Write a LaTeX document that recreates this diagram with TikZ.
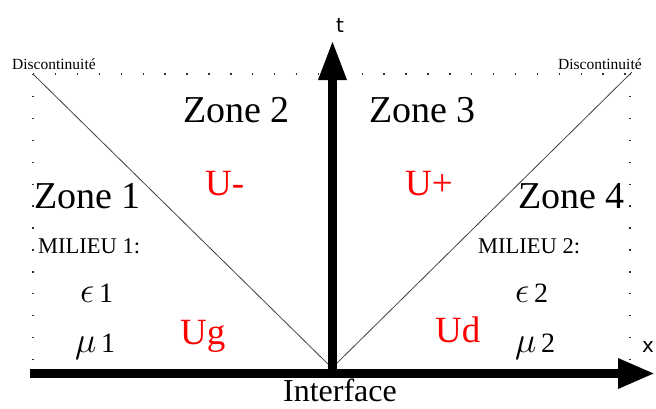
\documentclass[tikz,border=0pt]{standalone}
\usepackage{fontspec}
\setmainfont{Liberation Serif}
\newfontfamily\axfont{DejaVu Sans}
\usetikzlibrary{arrows.meta}
\newcommand{\bigsym}[1]{\scalebox{1.45}{$#1$}}
\begin{document}
\begin{tikzpicture}[x=1pt,y=-1pt,
  lbl/.style={inner sep=0pt,anchor=base west},
  zonetxt/.style={lbl,font=\fontsize{38}{40}\selectfont},
  redtxt/.style={lbl,text=red,font=\fontsize{37}{40}\selectfont},
  milieutxt/.style={lbl,font=\fontsize{22.5}{24}\selectfont},
  paramtxt/.style={lbl,font=\fontsize{28}{30}\selectfont},
  disctxt/.style={lbl,font=\fontsize{15.5}{17}\selectfont},
  axlbl/.style={inner sep=0pt,font=\axfont\fontsize{20}{22}\selectfont},
  dotline/.style={line width=1.4pt,dash pattern=on 1.4pt off 20.5pt,black!80},
  discline/.style={line width=0.8pt,black!75},
  axis/.style={line width=9pt}]
\useasboundingbox (0,0) rectangle (656,408);
% frame coordinates
\coordinate (TL) at (33,74);
\coordinate (TR) at (632,72);
\coordinate (BL) at (33,366);
\coordinate (BR) at (630,366);
\coordinate (O) at (332,368);
\coordinate (xs) at (30,373.5);
\coordinate (xe) at (655,373.5);
\coordinate (ys) at (332.5,378);
\coordinate (ye) at (332.5,40);
% dotted frame
\draw[dotline] (TL) -- (632,74);
\draw[dotline] (TL) -- (BL);
\draw[dotline] (630,74) -- (BR);
% discontinuity lines
\draw[discline] (TL) -- (O);
\draw[discline] (TR) -- (O);
% axes
\draw[axis,-{Triangle[length=37pt,width=28pt]}] (xs) -- (xe);
\draw[axis,-{Triangle[length=40pt,width=26pt]}] (ys) -- (ye);
% labels
\node[axlbl] (t) at (340,25) {t};
\node[axlbl] (x) at (648,347) {x};
\node[lbl,anchor=base,font=\fontsize{32}{34}\selectfont] (iface) at (340,401) {Interface};
\node[disctxt] (d1) at (12,69) {Discontinuité};
\node[disctxt] (d2) at (558,69) {Discontinuité};
\node[zonetxt] (z1) at (34,208) {Zone 1};
\node[zonetxt] (z2) at (183,122) {Zone 2};
\node[zonetxt] (z3) at (369,122) {Zone 3};
\node[zonetxt] (z4) at (518,208) {Zone 4};
\node[redtxt] (um) at (205,195) {U-};
\node[redtxt] (up) at (405,195) {U+};
\node[redtxt] (ug) at (180,344) {Ug};
\node[redtxt] (ud) at (435,342) {Ud};
\node[milieutxt] (m1) at (38,253) {MILIEU 1:};
\node[milieutxt] (m2) at (478,253) {MILIEU 2:};
\node[paramtxt] (e1) at (80,302) {\bigsym{\epsilon}\,1};
\node[paramtxt] (mu1) at (75,352) {\bigsym{\mu}\,1};
\node[paramtxt] (e2) at (515,302) {\bigsym{\epsilon}\,2};
\node[paramtxt] (mu2) at (515,352) {\bigsym{\mu}\,2};
\end{tikzpicture}
\end{document}
